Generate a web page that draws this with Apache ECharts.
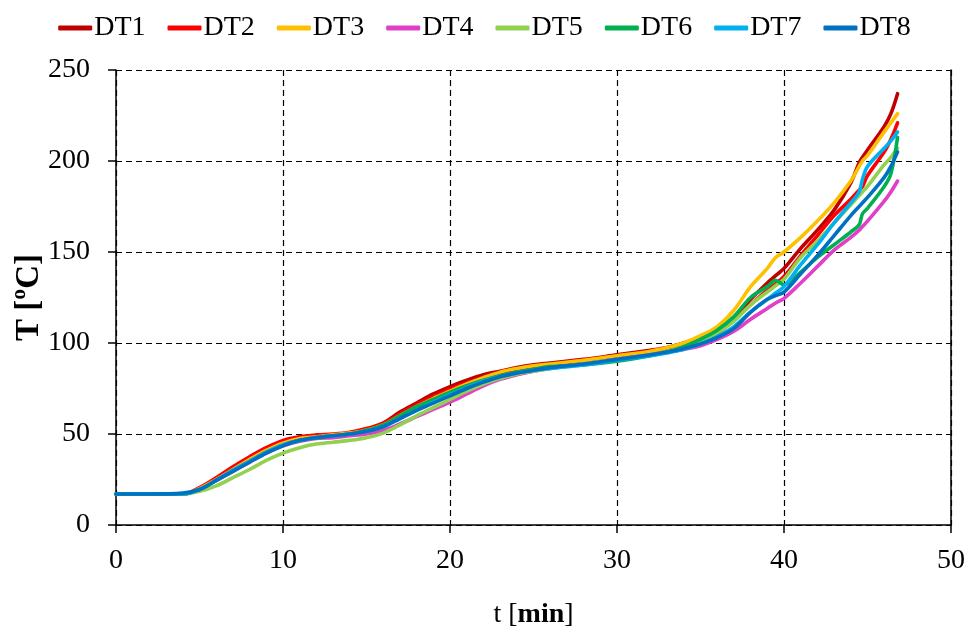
<!DOCTYPE html>
<html>
<head>
<meta charset="utf-8">
<script src="https://cdn.jsdelivr.net/npm/echarts@6/dist/echarts.min.js"></script>
<style>html,body{margin:0;padding:0;background:#fff;}#c{width:969px;height:633px;}</style>
</head>
<body>
<div id="c"></div>
<script>
const times = [0, 2, 4, 5, 6, 7, 8, 9, 10, 11, 12, 13, 14, 15, 16, 17, 18, 19, 20, 21, 22, 23, 24, 25, 26, 28, 30, 32, 33, 34, 35, 36, 37, 38, 39, 39.5, 40, 41, 42, 43, 44, 44.5, 44.7, 45, 46, 46.4, 46.8];
const DT1 = [17, 17, 17, 20, 25.5, 31, 36.5, 41.5, 45.5, 48, 49, 49.5, 50.5, 52.5, 56, 62, 67, 72, 76, 79.5, 82.5, 84.5, 86.5, 88, 89, 91, 93.5, 96, 97.5, 100, 103, 106.5, 114, 124, 133, 137, 141, 152, 162, 173, 188, 199, 202, 206, 219, 226, 237];
const DT2 = [17, 17, 17, 20.5, 26, 32, 37.5, 42.5, 46.5, 48.5, 49.5, 50, 51, 53, 56, 61, 66, 70.5, 74.5, 78, 81, 83.5, 85.5, 87, 88, 90.5, 93, 95.5, 97, 99, 102, 105.5, 112.5, 121, 129, 132.5, 136.5, 148, 159, 170, 179, 184, 186, 192, 205, 212, 221];
const DT3 = [17, 17, 17, 20, 25, 30.5, 36, 41, 45, 47.5, 48.5, 49.5, 50.5, 52, 55, 60, 65, 69.5, 73.5, 77.5, 81, 84, 86, 87.5, 88.5, 90.5, 93, 95.5, 97.5, 100, 104, 109, 118, 131, 141, 147, 150, 158, 167, 177, 189, 197, 200, 203, 216, 221, 226];
const DT4 = [17, 17, 17, 19.5, 24.5, 29.5, 34.5, 39.5, 43.5, 46, 47.5, 48, 49, 50, 52, 55.5, 59.5, 63.5, 67.5, 72, 76.5, 80, 82.5, 84.5, 86, 88.5, 91, 93.5, 95, 96.5, 98.5, 102, 106.5, 113, 119, 122, 124.5, 133, 142, 151, 158, 162, 164, 167, 178, 183, 189];
const DT5 = [17, 17, 17, 18.5, 21.5, 26, 30.5, 35.5, 39.5, 42.5, 44.5, 45.5, 46.5, 48, 50.5, 55, 60, 64.5, 69, 73.5, 77.5, 80.5, 83, 84.5, 86, 88.5, 91, 93.5, 95.5, 98, 101.5, 105.5, 112, 121, 128, 131.5, 135, 147, 156, 166, 176, 181, 183, 186, 198, 202, 207];
const DT6 = [17, 17, 17, 19.5, 24.5, 30, 35, 40, 44, 46.5, 48, 49, 50, 52, 55, 60, 65, 69, 73, 76.5, 79.5, 82, 84, 85.5, 87, 88, 90, 93, 95, 98, 102, 107, 114.5, 125, 131, 134.5, 132, 139, 147, 154, 161, 165, 171, 174, 186, 193, 213];
const DT7 = [17, 17, 17, 19.5, 24.5, 30, 35, 40, 44, 46.5, 48, 49, 50, 51.5, 54, 58.5, 63, 67.5, 71.5, 75.5, 79, 81.5, 83.5, 85, 86, 88, 90.5, 93, 94.5, 96.5, 99.5, 103.5, 109, 117, 124, 127.5, 131, 143, 154, 166, 177, 183, 190, 197, 207, 211, 216];
const DT8 = [17, 17, 17.5, 19.5, 24.5, 29.5, 34.5, 39.5, 43.5, 46.5, 48, 49, 50, 51.5, 54, 58.5, 63, 67, 71, 75, 78.5, 81.5, 83.5, 85, 86.5, 88.5, 91, 93.5, 95, 97, 99.5, 103, 108, 117, 124, 126, 128, 138, 148, 159, 170, 175, 177, 180, 191, 197, 205];

const names = ['DT1', 'DT2', 'DT3', 'DT4', 'DT5', 'DT6', 'DT7', 'DT8'];
const values = [DT1, DT2, DT3, DT4, DT5, DT6, DT7, DT8];
const colors = ['#C00000', '#FF0000', '#FFC000', '#E040C8', '#92D050', '#00B050', '#00B0F0', '#0070C0'];

const font = 'Liberation Serif';
const chart = echarts.init(document.getElementById('c'), null, {renderer: 'canvas'});
const series = names.map((n, i) => ({
  name: n,
  type: 'line',
  data: times.map((t, k) => [t, values[i][k]]),
  showSymbol: false,
  smooth: 0.35,
  lineStyle: {width: 3.6, color: colors[i], cap: 'round', join: 'round'},
  itemStyle: {color: colors[i]},
  emphasis: {disabled: true},
  z: 2 + i
}));

chart.setOption({
  animation: false,
  backgroundColor: '#fff',
  color: colors,
  legend: {
    top: 9,
    left: 'center',
    icon: 'roundRect',
    itemWidth: 34,
    itemHeight: 5,
    itemGap: 22,
    textStyle: {fontFamily: font, fontSize: 28, color: '#000', padding: [0, 0, 0, -3]},
    data: names
  },
  grid: {left: 116, right: 18, top: 70, bottom: 108, containLabel: false, outerBoundsMode: 'none'},
  xAxis: {
    type: 'value',
    min: 0, max: 50, interval: 10,
    name: '{n|t [}{b|min}{n|]}',
    nameLocation: 'middle',
    nameGap: 76,
    nameMoveOverlap: false,
    nameTextStyle: {
      rich: {
        n: {fontFamily: font, fontSize: 28, color: '#000'},
        b: {fontFamily: font, fontSize: 28, fontWeight: 'bold', color: '#000'}
      }
    },
    axisLine: {show: true, lineStyle: {color: '#000', width: 1.5}},
    axisTick: {show: true, length: 8, inside: false, lineStyle: {color: '#000', width: 1.5}},
    axisLabel: {fontFamily: font, fontSize: 28, color: '#000', margin: 22},
    splitLine: {show: true, lineStyle: {color: '#000', type: [6, 4], width: 1.2}}
  },
  yAxis: [{
    type: 'value',
    min: 0, max: 250, interval: 50,
    name: 'T [ºC]',
    nameLocation: 'middle',
    nameGap: 70,
    nameMoveOverlap: false,
    nameTextStyle: {fontFamily: font, fontSize: 33, fontWeight: 'bold', color: '#000'},
    axisLine: {show: true, lineStyle: {color: '#000', width: 1.5}},
    axisTick: {show: true, length: 8, inside: false, lineStyle: {color: '#000', width: 1.5}},
    axisLabel: {fontFamily: font, fontSize: 28, color: '#000', margin: 26},
    splitLine: {show: true, lineStyle: {color: '#000', type: [6, 4], width: 1.2}}
  }, {
    type: 'value',
    position: 'right',
    min: 0, max: 250, interval: 50,
    axisLine: {show: true, lineStyle: {color: '#000', width: 1.5}},
    axisTick: {show: false},
    axisLabel: {show: false},
    splitLine: {show: false}
  }],
  series: series
});
</script>
</body>
</html>
